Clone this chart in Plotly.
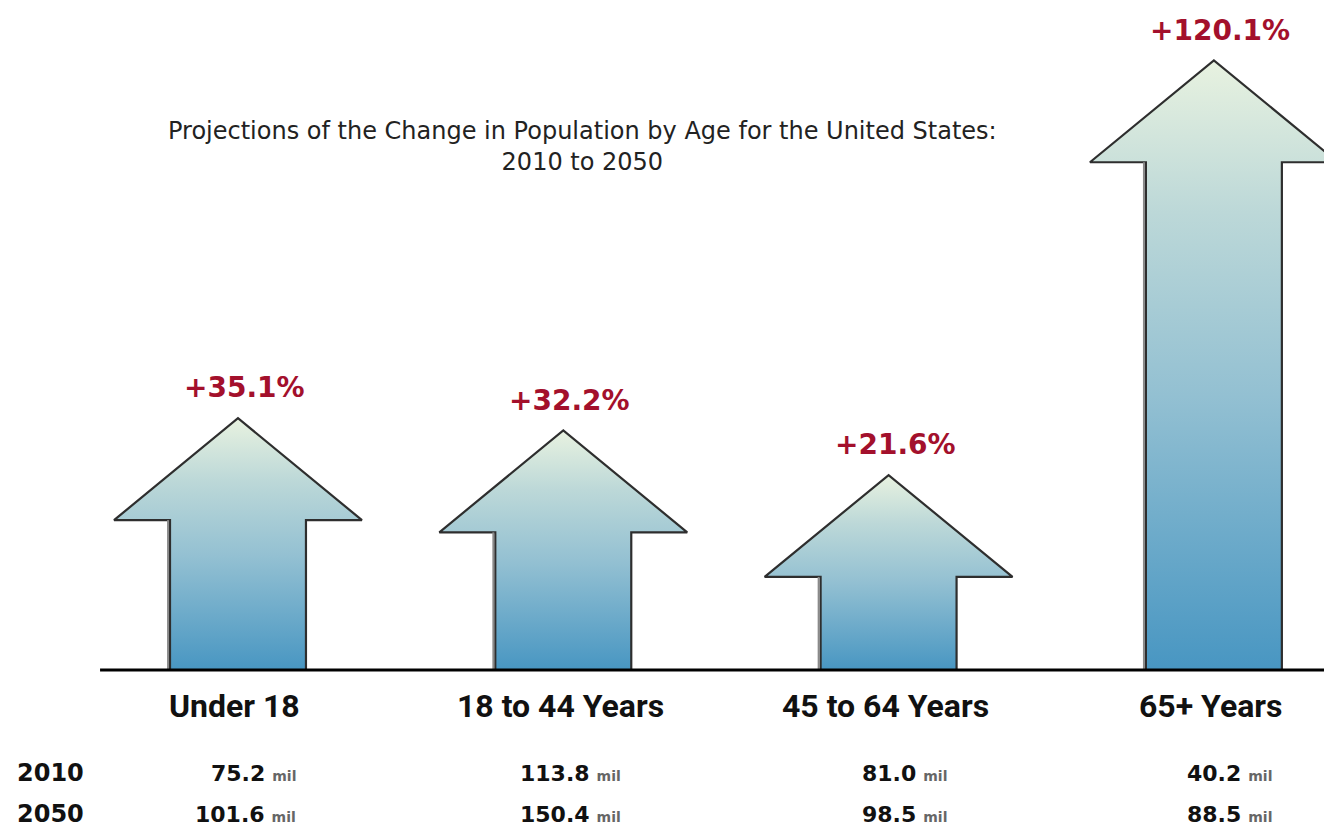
import plotly.graph_objects as go

# data
groups = ["Under 18", "18 to 44 Years", "45 to 64 Years", "65+ Years"]
pct_change = [35.1, 32.2, 21.6, 120.1]
pop_2010 = [75.2, 113.8, 81.0, 40.2]
pop_2050 = [101.6, 150.4, 98.5, 88.5]
years = ["2010", "2050"]

TITLE = "Projections of the Change in Population by Age for the United States:<br>2010 to 2050"
RED = "#a3102c"
OUTLINE = "#2e2e2e"

# arrow geometry (axis units)
BASE = 24.7      # arrow length at 0 % change
HEAD = 24.2      # head height
HEAD_HALF = 0.381
SHAFT_HALF = 0.209

ROW_Y = (-24.5, -34.3)

fig = go.Figure()

for i, pct in enumerate(pct_change):
    tip = BASE + pct
    neck = tip - HEAD
    xs = [i - SHAFT_HALF, i - SHAFT_HALF, i - HEAD_HALF, i, i + HEAD_HALF,
          i + SHAFT_HALF, i + SHAFT_HALF, i - SHAFT_HALF]
    ys = [0, neck, neck, tip, neck, neck, 0, 0]
    fig.add_trace(go.Scatter(
        x=xs, y=ys, mode="lines", fill="toself",
        fillgradient=dict(type="vertical",
                          colorscale=[[0, "#4896c2"], [0.45, "#93c0d2"],
                                      [0.75, "#bcd8d8"], [1, "#e8f2e0"]]),
        line=dict(color=OUTLINE, width=2.2), hoverinfo="skip", showlegend=False))
    # soft shadow on left side of the shaft
    fig.add_trace(go.Scatter(x=[i - SHAFT_HALF - 0.006] * 2, y=[0, neck], mode="lines",
                             line=dict(color="#8a8a8a", width=2),
                             hoverinfo="skip", showlegend=False))
    fig.add_annotation(x=i + 0.02, y=tip + 7.2, text=f"<b>+{pct}%</b>", showarrow=False,
                       font=dict(family="DejaVu Sans", size=28, color=RED))
    fig.add_annotation(x=i - 0.01, y=-8.6, text=f"<b>{groups[i]}</b>", showarrow=False,
                       font=dict(family="Roboto", size=32, color="#111"))
    for yy, vals in zip(ROW_Y, (pop_2010, pop_2050)):
        fig.add_annotation(x=i + 0.185, y=yy, xanchor="right",
                           text=f"<b>{vals[i]:.1f}</b> <span style='font-size:14px;color:#666'><b>mil</b></span>",
                           showarrow=False,
                           font=dict(family="DejaVu Sans", size=22, color="#111"))

# baseline
fig.add_shape(type="line", x0=-0.424, x1=3.4, y0=0, y1=0,
              line=dict(color="black", width=3), layer="above")

for yy, lab in zip(ROW_Y, years):
    fig.add_annotation(x=-0.575, y=yy, xanchor="center", text=f"<b>{lab}</b>",
                       showarrow=False, font=dict(family="DejaVu Sans", size=24, color="#111"))

fig.add_annotation(x=(583 - 238) / 325.3, y=(670 - 147) / 4.21, text=TITLE, showarrow=False,
                   align="center", font=dict(family="DejaVu Sans", size=24, color="#222"))

# page body adds an 8 px margin, so the figure is 16 px smaller than the window
fig.update_layout(
    width=1316, height=820, margin=dict(l=0, r=0, t=0, b=0),
    paper_bgcolor="white", plot_bgcolor="white",
    xaxis=dict(range=[-0.7070, 3.3385], visible=False, fixedrange=True),
    yaxis=dict(range=[-37.53, 157.24], visible=False, fixedrange=True),
)

fig.write_html("out.html")
